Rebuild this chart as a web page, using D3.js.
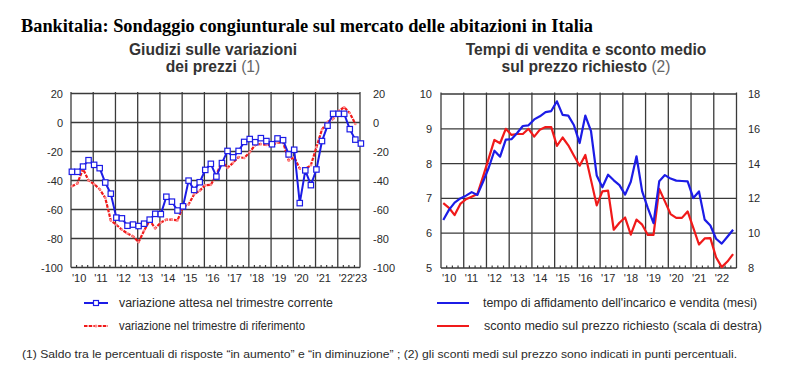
<!DOCTYPE html>
<html><head><meta charset="utf-8">
<script src="https://cdn.jsdelivr.net/npm/d3@7"></script>
<style>body{margin:0;background:#fff}svg{display:block}</style>
</head><body><svg id="c" width="789" height="389"></svg>
<script>
// ---------- DATA ----------
const years = [2010,2011,2012,2013,2014,2015,2016,2017,2018,2019,2020,2021,2022];
const yearLabelsLeft = ["'10","'11","'12","'13","'14","'15","'16","'17","'18","'19","'20","'21","'22","'23"];
const yearLabelsRight = ["'10","'11","'12","'13","'14","'15","'16","'17","'18","'19","'20","'21","'22"];
const prezziTicks = [20,0,-20,-40,-60,-80,-100];
const tempiTicks = [10,9,8,7,6,5];
const scontoTicks = [18,16,14,12,10,8];

// quarters 2010T1 ... 2023T1
const quarters = [];
[2010,2011,2012,2013,2014,2015,2016,2017,2018,2019,2020,2021,2022].forEach(y=>{[1,2,3,4].forEach(q=>quarters.push(y+"T"+q));});
quarters.push("2023T1");

// Giudizi sulle variazioni dei prezzi (saldo %)
const variazioneAttesa = [-34,-34,-30.4,-26,-29.2,-31.5,-41.4,-49.1,-65.6,-66.1,-71.2,-70.4,-71.4,-69.8,-67,-63,-63.2,-51.2,-54.6,-60.7,-57.8,-40.1,-46.5,-41.2,-32.7,-28.5,-37.3,-28,-19.6,-24,-19.6,-13.4,-11.4,-13.6,-10.8,-12.8,-15,-11,-12.2,-22,-18.8,-55.6,-33,-43.2,-32.4,-12.8,-2.2,6,6,6,-4.6,-11.8,-14.5];
const variazioneRiferimento = [-44,-42,-32,-40,-42.5,-46,-52,-67.5,-70.5,-74,-76.5,-78.5,-82.5,-74.5,-67.5,-73,-69,-67,-67,-67.5,-58,-56.5,-49.5,-47,-43.2,-43,-36,-27,-31.2,-27.8,-23.8,-24.5,-20.5,-15.4,-14.8,-15.5,-15.2,-14,-13.5,-26.2,-24,-31.8,-32,-29.5,-17,-4.8,0.3,2.5,8,10.5,6.5,-1];

// Tempi di vendita (mesi) e sconto medio (punti %)
const tempoVendita = [6.38,6.67,6.88,7.0,7.08,7.18,7.1,7.48,7.88,8.37,8.2,8.69,8.7,8.88,9.08,9.1,9.27,9.36,9.48,9.51,9.79,9.4,9.38,9.1,8.59,9.38,8.93,7.66,7.32,7.68,7.52,7.38,7.11,7.48,8.21,7.2,6.72,6.29,7.49,7.67,7.57,7.51,7.5,7.49,7.01,7.2,6.39,6.22,5.84,5.7,5.9,6.1];
const scontoMedio = [11.73,11.46,11.04,11.68,11.95,12.1,12.25,13.25,14.3,15.36,15.17,16.0,15.65,15.7,15.7,16.0,15.55,15.95,16.1,16.1,15.02,15.5,15.05,14.45,13.88,14.5,13.05,11.6,12.4,12.45,10.2,10.6,10.9,9.92,10.78,10.49,9.9,9.9,12.55,11.83,11.1,10.88,10.88,11.25,10.3,9.35,9.7,9.72,8.62,8.05,8.37,8.8];

// ---------- DRAW ----------
const svg = d3.select("#c");
const FONT = "Liberation Sans, Arial, sans-serif";
const gridCol = "#3a3a3a", textCol = "#2a2a2a";
const BLUE = "#1c1ce6", RED = "#f01a1a";
const qTime = (s, off) => { const [y,q] = s.split("T").map(Number); return y + (q-1)/4 + off; };

// Title
svg.append("text").attr("x",21).attr("y",32)
  .attr("font-family","Liberation Serif, Times New Roman, serif").attr("font-weight","bold")
  .attr("font-size",18).attr("fill","#000")
  .attr("textLength",572).attr("lengthAdjust","spacingAndGlyphs")
  .text("Bankitalia: Sondaggio congiunturale sul mercato delle abitazioni in Italia");

function subtitle(cx, l1, l2a, l2b){
  const g = svg.append("g").attr("font-family",FONT).attr("font-size",15.6).attr("text-anchor","middle");
  g.append("text").attr("x",cx).attr("y",54.5).attr("fill","#333").attr("font-weight","bold").text(l1);
  const t = g.append("text").attr("x",cx).attr("y",72).attr("fill","#333");
  t.append("tspan").attr("font-weight","bold").text(l2a);
  t.append("tspan").attr("fill","#666").text(" "+l2b);
}
subtitle(213, "Giudizi sulle variazioni", "dei prezzi", "(1)");
subtitle(586, "Tempi di vendita e sconto medio", "sul prezzo richiesto", "(2)");

function frame(x, yL, yLticks, yRticksVals, yRscale, labels, rightLabelAtEnd, lLabelX, rLabelX){
  const g = svg.append("g");
  const [x0,x1] = x.range(); const [yb,yt] = yL.range();
  g.selectAll(".h").data(yLticks).join("line")
    .attr("x1",x0).attr("x2",x1).attr("y1",d=>yL(d)).attr("y2",d=>yL(d))
    .attr("stroke",gridCol).attr("stroke-width",1.3);
  const yrs = years.concat([2023]);
  g.selectAll(".v").data(yrs).join("line")
    .attr("x1",d=>x(d)).attr("x2",d=>x(d)).attr("y1",yt-1.5).attr("y2",yb)
    .attr("stroke",gridCol).attr("stroke-width",1.3);
  const qs = [];
  years.forEach(y=>[0.25,0.5,0.75].forEach(f=>qs.push(y+f)));
  g.selectAll(".m").data(qs).join("line")
    .attr("x1",d=>x(d)).attr("x2",d=>x(d)).attr("y1",yb).attr("y2",yb-2.5)
    .attr("stroke",gridCol).attr("stroke-width",1.2);
  const tg = svg.append("g").attr("font-family",FONT).attr("font-size",11).attr("fill",textCol);
  tg.selectAll(".l").data(yLticks).join("text")
    .attr("x",lLabelX).attr("y",d=>yL(d)+4).attr("text-anchor","end").text(d=>d);
  tg.selectAll(".r").data(yRticksVals).join("text")
    .attr("x",rLabelX).attr("y",d=>yRscale(d)+4).attr("text-anchor","start").text(d=>d);
  tg.selectAll(".x").data(labels).join("text")
    .attr("x",(d,i)=> (rightLabelAtEnd && i===labels.length-1) ? x(2023) : x(2010+i)+1)
    .attr("y",282)
    .attr("text-anchor",(d,i)=> (rightLabelAtEnd && i===labels.length-1) ? "middle" : "start")
    .text(d=>d);
}

// Left chart
const xL = d3.scaleLinear().domain([2010,2023]).range([71,360]);
const yL = d3.scaleLinear().domain([-100,20]).range([267.5,93.5]);
frame(xL, yL, prezziTicks, prezziTicks, yL, yearLabelsLeft, true, 63, 373);

const lineL = d3.line().x(d=>xL(d[0])).y(d=>yL(d[1]));
const ptsRif = variazioneRiferimento.map((v,i)=>[qTime(quarters[i],0.04),v]);
const ptsAtt = variazioneAttesa.map((v,i)=>[qTime(quarters[i],0.04),v]);
svg.append("path").attr("d",lineL(ptsRif)).attr("fill","none").attr("stroke",RED).attr("stroke-width",2.2)
  .attr("stroke-linejoin","round").attr("stroke-dasharray","3.5,1.2");
svg.selectAll(".rm").data(ptsRif).join("circle")
  .attr("cx",d=>xL(d[0])).attr("cy",d=>yL(d[1])).attr("r",1.3).attr("fill","#ff8a8a");
svg.append("path").attr("d",lineL(ptsAtt)).attr("fill","none").attr("stroke",BLUE).attr("stroke-width",2).attr("stroke-linejoin","round");
svg.selectAll(".bm").data(ptsAtt).join("rect")
  .attr("x",d=>xL(d[0])-2.7).attr("y",d=>yL(d[1])-2.7).attr("width",5.4).attr("height",5.4)
  .attr("fill","#fff").attr("stroke",BLUE).attr("stroke-width",1.2);

// Right chart
const xR = d3.scaleLinear().domain([2010,2023]).range([441,736.5]);
const yR1 = d3.scaleLinear().domain([5,10]).range([268,94]);
const yR2 = d3.scaleLinear().domain([8,18]).range([268,94]);
frame(xR, yR1, tempiTicks, scontoTicks, yR2, yearLabelsRight, false, 432, 748);

const lineR1 = d3.line().x((d,i)=>xR(qTime(quarters[i],0.1))).y(d=>yR1(d));
const lineR2 = d3.line().x((d,i)=>xR(qTime(quarters[i],0.1))).y(d=>yR2(d));
svg.append("path").attr("d",lineR2(scontoMedio)).attr("fill","none").attr("stroke",RED).attr("stroke-width",2.2).attr("stroke-linejoin","round");
svg.append("path").attr("d",lineR1(tempoVendita)).attr("fill","none").attr("stroke",BLUE).attr("stroke-width",2.2).attr("stroke-linejoin","round");

// Legends
const lg = svg.append("g").attr("font-family",FONT).attr("font-size",12).attr("fill",textCol);
const legendItems = [
  {x1:84,x2:108,y:303,col:BLUE,mk:"sq",tx:119,tl:214,text:"variazione attesa nel trimestre corrente"},
  {x1:84,x2:108,y:326,col:RED,mk:"dot",tx:119,tl:186,text:"variazione nel trimestre di riferimento"},
  {x1:437,x2:469,y:303,col:BLUE,mk:null,tx:483,tl:274,text:"tempo di affidamento dell'incarico e vendita (mesi)"},
  {x1:437,x2:469,y:326,col:RED,mk:null,tx:484,tl:278,text:"sconto medio sul prezzo richiesto (scala di destra)"}
];
legendItems.forEach(d=>{
  lg.append("line").attr("x1",d.x1).attr("x2",d.x2).attr("y1",d.y).attr("y2",d.y).attr("stroke",d.col).attr("stroke-width",2)
    .attr("stroke-dasharray", d.mk==="dot" ? "3.5,1.2" : null);
  if(d.mk==="sq") lg.append("rect").attr("x",(d.x1+d.x2)/2-2.5).attr("y",d.y-2.5).attr("width",5).attr("height",5).attr("fill","#fff").attr("stroke",d.col).attr("stroke-width",1.2);
  if(d.mk==="dot") lg.append("circle").attr("cx",(d.x1+d.x2)/2).attr("cy",d.y).attr("r",1.5).attr("fill","#ff8a8a");
  lg.append("text").attr("x",d.tx).attr("y",d.y+4.3).attr("textLength",d.tl).attr("lengthAdjust","spacingAndGlyphs").text(d.text);
});

// Footnote
svg.append("text").attr("x",22).attr("y",358).attr("font-family",FONT).attr("font-size",10.5).attr("fill",textCol)
  .attr("textLength",715).attr("lengthAdjust","spacingAndGlyphs")
  .text("(1) Saldo tra le percentuali di risposte \u201cin aumento\u201d e \u201cin diminuzione\u201d ; (2) gli sconti medi sul prezzo sono indicati in punti percentuali.");
</script></body></html>
